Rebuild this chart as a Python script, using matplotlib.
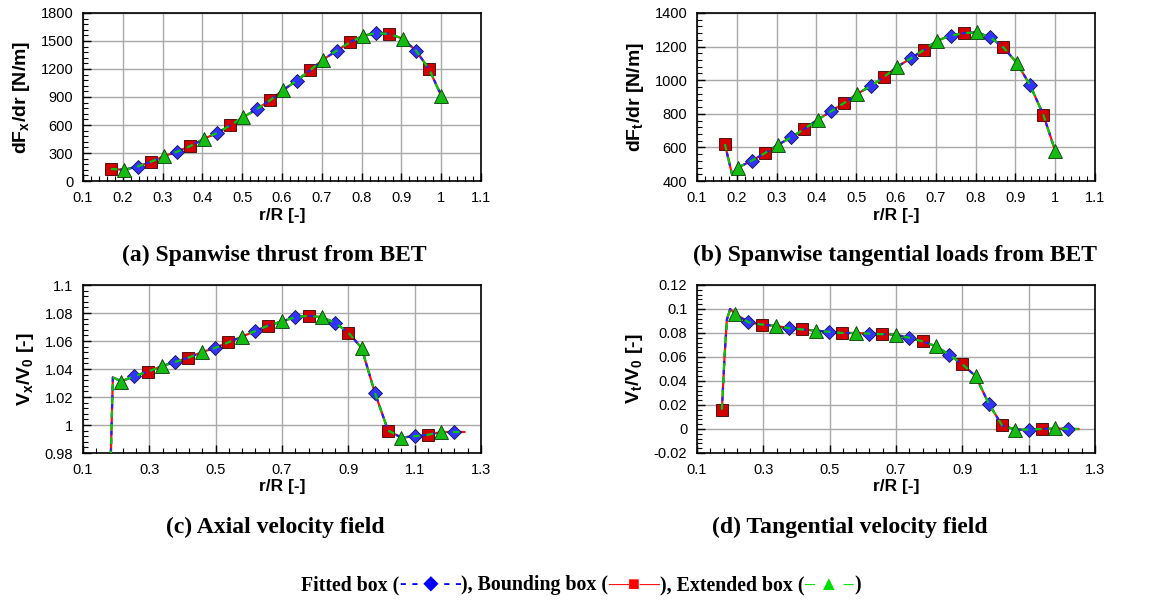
import matplotlib
matplotlib.use("Agg")
import matplotlib.pyplot as plt
import numpy as np
from matplotlib.ticker import MultipleLocator, FixedLocator, FuncFormatter

plt.rcParams['font.family'] = ['Liberation Sans', 'DejaVu Sans']
plt.rcParams['mathtext.fontset'] = 'custom'
plt.rcParams['mathtext.bf'] = 'Liberation Sans:bold'
plt.rcParams['mathtext.rm'] = 'Liberation Sans'
plt.rcParams['mathtext.default'] = 'bf'
plt.rcParams['axes.unicode_minus'] = False

# (a) spanwise thrust from BET
r_thrust = [0.170, 0.203, 0.237, 0.270, 0.303, 0.337, 0.370, 0.403, 0.437, 0.470,
            0.503, 0.537, 0.570, 0.603, 0.637, 0.670, 0.703, 0.737, 0.770, 0.803,
            0.837, 0.870, 0.903, 0.937, 0.970, 1.000]
thrust = [130, 120, 155, 205, 265, 315, 375, 450, 515, 595,
          685, 770, 865, 975, 1075, 1185, 1300, 1395, 1485, 1555,
          1585, 1575, 1525, 1395, 1195, 915]
thrust_marked = list(range(len(r_thrust)))

# (b) spanwise tangential loads from BET
r_tang = [0.170, 0.188, 0.203, 0.237, 0.270, 0.303, 0.337, 0.370, 0.403, 0.437,
          0.470, 0.503, 0.537, 0.570, 0.603, 0.637, 0.670, 0.703, 0.737, 0.770,
          0.803, 0.837, 0.870, 0.903, 0.937, 0.970, 1.000]
tang = [620, 440, 480, 520, 565, 615, 660, 710, 765, 815,
        865, 920, 965, 1020, 1080, 1130, 1180, 1235, 1265, 1280,
        1285, 1255, 1195, 1105, 970, 795, 580]
tang_marked = [0] + list(range(2, len(r_tang)))

# (c), (d) velocity fields
r_vel = [0.175, 0.183, 0.190, 0.200, 0.215, 0.255, 0.295, 0.337, 0.377, 0.417,
         0.458, 0.498, 0.538, 0.578, 0.618, 0.658, 0.700, 0.740, 0.780, 0.820,
         0.860, 0.900, 0.940, 0.980, 1.020, 1.060, 1.100, 1.140, 1.180, 1.220, 1.250]
vx = [0.80, 0.97, 1.034, 1.033, 1.031, 1.035, 1.038, 1.042, 1.045, 1.048,
      1.052, 1.055, 1.059, 1.063, 1.067, 1.071, 1.074, 1.077, 1.078, 1.077,
      1.073, 1.066, 1.055, 1.023, 0.996, 0.991, 0.992, 0.993, 0.995, 0.995, 0.995]
vt = [0.016, 0.060, 0.091, 0.100, 0.096, 0.089, 0.087, 0.086, 0.084, 0.083,
      0.082, 0.081, 0.080, 0.080, 0.0795, 0.079, 0.0785, 0.076, 0.073, 0.069,
      0.062, 0.054, 0.044, 0.021, 0.003, -0.0005, -0.0005, 0.0, 0.0005, 0.0, 0.0]
vel_marked = [0] + list(range(4, len(r_vel) - 1))

captions = ["(a) Spanwise thrust from BET", "(b) Spanwise tangential loads from BET",
            "(c) Axial velocity field", "(d) Tangential velocity field"]

fig = plt.figure(figsize=(11.65, 6.03), dpi=100)

W, H = 1165.0, 603.0
boxes = [(83, 13, 481, 181), (697, 13, 1095, 181),
         (83, 285, 481, 453), (697, 285, 1095, 453)]
axes = [fig.add_axes([l / W, 1 - b / H, (r - l) / W, (b - t) / H]) for l, t, r, b in boxes]

fmt = FuncFormatter(lambda v, p: f"{round(v, 6):g}")


def draw(ax, r, y, marked):
    # markers staggered: square, triangle, diamond
    sq = marked[0::3]
    tri = marked[1::3]
    dia = marked[2::3]
    ax.plot(r, y, '-', color='#ff1010', lw=1.6, marker='s', ms=8, mfc='#d40000',
            mec='#3a0000', mew=0.6, markevery=sq, zorder=3)
    ax.plot(r, y, '--', color='#2020ff', lw=1.6, dashes=(2, 2), marker='D', ms=7.2,
            mfc='#3333ff', mec='#10104a', mew=0.6, markevery=dia, zorder=3)
    ax.plot(r, y, '--', color='#00cc00', lw=1.6, dashes=(3, 3), marker='^', ms=9.5,
            mfc='#13bb13', mec='#0a3a0a', mew=0.6, markevery=tri, zorder=3)


def style(ax, xmaj, xmin, ylim, ymaj, ymin, ylabel):
    ax.set_xlim(xmaj[0], xmaj[-1])
    ax.set_ylim(*ylim)
    ax.xaxis.set_major_locator(FixedLocator(xmaj))
    ax.xaxis.set_minor_locator(FixedLocator(xmin))
    ax.yaxis.set_major_locator(MultipleLocator(ymaj))
    ax.yaxis.set_minor_locator(MultipleLocator(ymin))
    ax.xaxis.set_major_formatter(fmt)
    ax.yaxis.set_major_formatter(fmt)
    ax.grid(True, which='major', color='#a8a8a8', lw=1.0)
    ax.set_axisbelow(True)
    ax.tick_params(which='both', direction='in', top=False, right=False,
                   labelsize=10.5, pad=7)
    ax.tick_params(which='major', length=6, width=1)
    ax.tick_params(which='minor', length=3.5, width=0.8)
    for s in ax.spines.values():
        s.set_linewidth(1.2)
    ax.set_xlabel('r/R [-]', fontsize=12.5, fontweight='bold', labelpad=2)
    ax.set_ylabel(ylabel, fontsize=14, fontweight='bold', labelpad=6)


x_short = np.round(np.arange(0.1, 1.1001, 0.1), 3)
x_short_minor = np.round(np.arange(0.1, 1.1001, 0.02), 3)
x_long = np.round(np.arange(0.1, 1.3001, 0.2), 3)
x_long_minor = np.round(np.arange(0.1, 1.3001, 0.04), 3)

draw(axes[0], r_thrust, thrust, thrust_marked)
style(axes[0], x_short, x_short_minor, (0, 1800), 300, 60, 'dF$_x$/dr [N/m]')
draw(axes[1], r_tang, tang, tang_marked)
style(axes[1], x_short, x_short_minor, (400, 1400), 200, 40, 'dF$_t$/dr [N/m]')
draw(axes[2], r_vel, vx, vel_marked)
style(axes[2], x_long, x_long_minor, (0.98, 1.1), 0.02, 0.004, 'V$_x$/V$_0$ [-]')
draw(axes[3], r_vel, vt, vel_marked)
style(axes[3], x_long, x_long_minor, (-0.02, 0.12), 0.02, 0.004, 'V$_t$/V$_0$ [-]')

serif = ['Liberation Serif', 'DejaVu Sans']
cap_pos = [(274, 255), (895, 255), (275, 527), (850, 527)]
for (cx, cy), txt in zip(cap_pos, captions):
    fig.text(cx / W, 1 - cy / H, txt, family=serif, fontweight='bold', fontsize=17,
             ha='center', va='center')

# legend line made of coloured pieces
pieces = [("Fitted box (", 'black'), ("- - \u25c6 - -", '#0000ff'),
          ("), Bounding box (", 'black'), ("\u2014\u25a0\u2014", '#ff0000'),
          ("), Extended box (", 'black'), ("\u2013 \u25b2 \u2013", '#00dd00'),
          (")", 'black')]
fig.canvas.draw()
renderer = fig.canvas.get_renderer()
texts = []
x = 0.0
for s, c in pieces:
    t = fig.text(x, 1 - 585 / H, s, family=serif, fontweight='bold', fontsize=14.3,
                 color=c, ha='left', va='center')
    bb = t.get_window_extent(renderer)
    x = bb.x1 / fig.bbox.width
    texts.append(t)
total = x
shift = 581 / W - total / 2
for t in texts:
    px, py = t.get_position()
    t.set_position((px + shift, py))

fig.savefig('out.png', dpi=100)
